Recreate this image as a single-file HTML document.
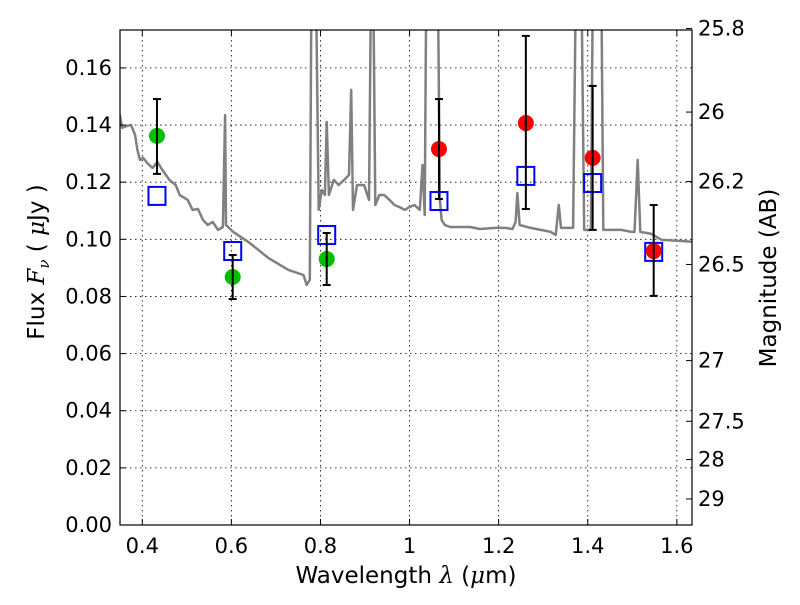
<!DOCTYPE html>
<html><head><meta charset="utf-8"><style>
body{margin:0;background:#fff}
svg text{font-family:"DejaVu Sans","Liberation Sans",sans-serif;fill:#000}
</style></head><body>
<svg id="chart" width="800" height="600" viewBox="0 0 800 600">
<defs><clipPath id="clip"><rect x="120" y="30" width="572" height="495"/></clipPath></defs>
<rect x="0" y="0" width="800" height="600" fill="#fff"/>
<g id="grid"></g>
<g id="spec" clip-path="url(#clip)"></g>
<g id="marks" clip-path="url(#clip)"></g>
<rect x="120" y="30" width="572" height="495" fill="none" stroke="#000" stroke-width="1.2"/>
<g id="axes"></g>
<text x="406" y="583" font-size="23" text-anchor="middle">Wavelength  <tspan font-family="DejaVu Serif" font-style="italic">λ</tspan> (<tspan font-family="DejaVu Serif" font-style="italic">μ</tspan>m)</text>
<text transform="translate(44,262) rotate(-90)" font-size="23" text-anchor="middle">Flux  <tspan font-family="DejaVu Serif" font-style="italic">F</tspan><tspan font-family="DejaVu Serif" font-style="italic" font-size="15" dy="5">ν</tspan><tspan dy="-5">   ( </tspan><tspan font-family="DejaVu Serif" font-style="italic">μ</tspan>Jy )</text>
<text transform="translate(776,278) rotate(-90)" font-size="23" text-anchor="middle">Magnitude (AB)</text>
</svg>
<script>
const xTicks=[0.4,0.6,0.8,1.0,1.2,1.4,1.6];
const xTickLabels=["0.4","0.6","0.8","1","1.2","1.4","1.6"];
const yTicks=[0,0.02,0.04,0.06,0.08,0.10,0.12,0.14,0.16];
const yTickLabels=["0.00","0.02","0.04","0.06","0.08","0.10","0.12","0.14","0.16"];
const magTicks=[25.8,26,26.2,26.5,27,27.5,28,29];
const magTickLabels=["25.8","26","26.2","26.5","27","27.5","28","29"];
const specWl=[0.346,0.355,0.366,0.375,0.384,0.389,0.395,0.402,0.411,0.423,0.434,0.445,0.461,0.475,0.484,0.502,0.513,0.525,0.536,0.547,0.558,0.570,0.581,0.586,0.588,0.604,0.638,0.683,0.728,0.762,0.769,0.776,0.780,0.789,0.796,0.803,0.810,0.814,0.819,0.830,0.841,0.853,0.864,0.869,0.873,0.882,0.898,0.909,0.914,0.918,0.923,0.932,0.943,0.955,0.966,0.977,0.989,1.000,1.011,1.023,1.029,1.034,1.038,1.063,1.068,1.072,1.079,1.091,1.136,1.158,1.192,1.215,1.231,1.238,1.242,1.247,1.272,1.317,1.328,1.335,1.340,1.367,1.374,1.385,1.392,1.407,1.412,1.430,1.435,1.475,1.498,1.505,1.512,1.518,1.543,1.566,1.611,1.640];
const specFlux=[0.1463,0.1390,0.1397,0.1400,0.1365,0.1313,0.1278,0.1285,0.1267,0.1250,0.1271,0.1243,0.1208,0.1190,0.1155,0.1138,0.1103,0.1106,0.1068,0.1050,0.1061,0.1033,0.1043,0.1435,0.1050,0.1026,0.0991,0.0935,0.0893,0.0875,0.0840,0.0858,0.2,0.2,0.1103,0.1173,0.1155,0.1411,0.1155,0.1208,0.1190,0.1208,0.1225,0.1523,0.1103,0.1190,0.1190,0.1138,0.2,0.2,0.1120,0.1155,0.1155,0.1138,0.1120,0.1113,0.1103,0.1113,0.1120,0.1103,0.1260,0.1085,0.2,0.2,0.1138,0.1068,0.1050,0.1043,0.1043,0.1036,0.1040,0.1040,0.1036,0.1061,0.1162,0.1050,0.1040,0.1026,0.1015,0.1120,0.1040,0.1040,0.2,0.2,0.1033,0.1033,0.2,0.2,0.1033,0.1033,0.1026,0.1026,0.1278,0.1026,0.1019,0.0998,0.0994,0.0991];
const greenWl=[0.433,0.603,0.814];
const greenFlux=[0.1362,0.0868,0.0931];
const greenErrLo=[0.1229,0.0791,0.0840];
const greenErrHi=[0.1491,0.0945,0.1022];
const redWl=[1.066,1.261,1.411,1.548];
const redFlux=[0.1316,0.1407,0.1285,0.0959];
const redErrLo=[0.1141,0.1106,0.1033,0.0802];
const redErrHi=[0.1491,0.1712,0.1537,0.1120];
const modelWl=[0.433,0.603,0.814,1.066,1.261,1.411,1.548];
const modelFlux=[0.1152,0.0959,0.1015,0.1134,0.1222,0.1197,0.0956];

const X0=120,X1=692,Y0=525,Y1=30,xmin=0.35,xmax=1.634,ymin=0,ymax=0.17327;
const sx=v=>X0+(v-xmin)/(xmax-xmin)*(X1-X0);
const sy=v=>Y0-(v-ymin)/(ymax-ymin)*(Y0-Y1);
const NS="http://www.w3.org/2000/svg";
function mk(tag,attrs,parent){const e=document.createElementNS(NS,tag);for(const k in attrs)e.setAttribute(k,attrs[k]);parent.appendChild(e);return e;}
const grid=document.getElementById('grid'),axes=document.getElementById('axes'),spec=document.getElementById('spec'),marks=document.getElementById('marks');

xTicks.forEach((t,i)=>{const x=sx(t);
 const g=mk('line',{x1:x,x2:x,y1:Y1,y2:Y0,stroke:'#000','stroke-width':0.8,'stroke-dasharray':'1.5,3.5'},grid);
 
 
 const tb=mk('line',{x1:x,x2:x,y1:Y0,y2:Y0-6,stroke:'#000'},axes);
 
 
 const tt=mk('line',{x1:x,x2:x,y1:Y1,y2:Y1+6,stroke:'#000'},axes);
 
 
 const l=mk('text',{x:x,y:Y0+28,'font-size':21,'text-anchor':'middle'},axes);l.textContent=xTickLabels[i];
 
 
});
yTicks.forEach((t,i)=>{const y=sy(t);
 const g=mk('line',{x1:X0,x2:X1,y1:y,y2:y,stroke:'#000','stroke-width':0.8,'stroke-dasharray':'1.5,3.5'},grid);
 
 
 const tk=mk('line',{x1:X0,x2:X0+6,y1:y,y2:y,stroke:'#000'},axes);
 
 
 const l=mk('text',{x:X0-8,y:y+7,'font-size':21,'text-anchor':'end'},axes);l.textContent=yTickLabels[i];
 
 
});
magTicks.forEach((m,i)=>{const y=sy(Math.pow(10,(23.9-m)/2.5));
 const tk=mk('line',{x1:X1,x2:X1-6,y1:y,y2:y,stroke:'#000'},axes);
 
 
 const l=mk('text',{x:X1+6,y:y+7,'font-size':21},axes);l.textContent=magTickLabels[i];
 
 
});
const pts=specWl.map((w,i)=>sx(w).toFixed(1)+','+sy(specFlux[i]).toFixed(1)).join(' ');
const pl=mk('polyline',{points:pts,fill:'none',stroke:'#808080','stroke-width':2.5,'stroke-linejoin':'round'},spec);



function errbar(w,lo,hi){const x=sx(w);
 const e=mk('g',{stroke:'#000','stroke-width':2},marks);
 
 
 mk('line',{x1:x,x2:x,y1:sy(lo),y2:sy(hi)},e);
 mk('line',{x1:x-4,x2:x+4,y1:sy(lo),y2:sy(lo)},e);
 mk('line',{x1:x-4,x2:x+4,y1:sy(hi),y2:sy(hi)},e);}
modelWl.forEach((w,i)=>{const x=sx(w),y=sy(modelFlux[i]);
 const r=mk('rect',{x:x-8.5,y:y-9,width:17,height:18,fill:'none',stroke:'#0000ff','stroke-width':2},marks);
 
 });
greenWl.forEach((w,i)=>{
 const c=mk('circle',{cx:sx(w),cy:sy(greenFlux[i]),r:8,fill:'#00bf00'},marks);
 
 
 errbar(w,greenErrLo[i],greenErrHi[i]);});
redWl.forEach((w,i)=>{
 const c=mk('circle',{cx:sx(w),cy:sy(redFlux[i]),r:8,fill:'#ff0000'},marks);
 
 
 errbar(w,redErrLo[i],redErrHi[i]);});
</script>
</body></html>
